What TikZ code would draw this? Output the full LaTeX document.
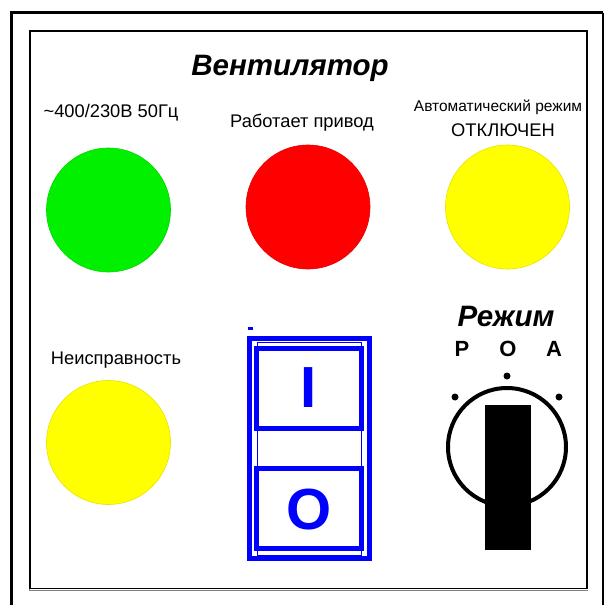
\documentclass[tikz,border=0pt]{standalone}
\usepackage{fontspec}
\setmainfont{Liberation Sans}
\definecolor{lampgreen}{RGB}{0,240,0}
\definecolor{lampred}{RGB}{255,0,0}
\definecolor{lampyellow}{RGB}{255,255,0}
\definecolor{swblue}{RGB}{0,0,255}
\tikzset{
  lamp/.style={circle, minimum size=124pt, inner sep=0pt, draw=#1!90!black, line width=0.6pt, fill=#1},
  lbl/.style={inner sep=0pt, font=\fontsize{18.3}{20}\selectfont},
  title/.style={inner sep=0pt, font=\fontsize{29.5}{31}\selectfont\bfseries\itshape},
  poslbl/.style={inner sep=0pt, font=\fontsize{22}{24}\selectfont\bfseries},
  swbox/.style={draw=swblue, line width=5pt},
}
\begin{document}
\begin{tikzpicture}[x=1pt,y=-1pt]
\useasboundingbox (0,0) rectangle (606,605);
% outer frame
\draw[line width=3pt] (11.5,610) -- (11.5,12.5) -- (603,12.5);
\draw[line width=2pt] (603,12.5) -- (603,610);
% inner frame
\draw[gray, line width=1pt] (29,32) -- (29,590) -- (588,590);
\draw[line width=1.8pt] (30,31) rectangle (587,588.5);
% title
\node[title] (t) at (290,68) {Вентилятор};
% labels
\node[lbl] (l1) at (111,113) {\textasciitilde400/230В 50Гц};
\node[lbl] (l2) at (302,123) {Работает привод};
\node[lbl, font=\fontsize{15.5}{17}\selectfont] (l3a) at (498,107) {Автоматический режим};
\node[lbl] (l3b) at (503,130) {ОТКЛЮЧЕН};
\node[lbl] (l4) at (116,360) {Неисправность};
% lamps
\node[lamp=lampgreen] (g) at (108.5,210) {};
\node[lamp=lampred] (r) at (308,207) {};
\node[lamp=lampyellow] (y1) at (507.5,207) {};
\node[lamp=lampyellow] (y2) at (108.5,442.5) {};
% switch
\fill[swblue] (248,327) rectangle (253,329.5);
\draw[swbox] (249.5,338.5) rectangle (369.5,558.5);
\draw[swblue, line width=1pt] (257,342) rectangle (361,555);
\draw[swbox] (256.5,348.5) rectangle (361.5,428.5);
\draw[swbox] (256.5,468.5) rectangle (361.5,548.5);
\node[inner sep=0pt, text=swblue, font=\fontsize{58}{60}\selectfont\bfseries] (on) at (309,388) {I};
\node[inner sep=0pt, text=swblue, font=\fontsize{58}{60}\selectfont\bfseries] (off) at (309,510) {O};
% selector
\node[title] (rz) at (506,316) {Режим};
\node[poslbl] (pP) at (462,349) {Р};
\node[poslbl] (pO) at (508,349) {О};
\node[poslbl] (pA) at (554,349) {А};
\fill (507,376) circle (3.5);
\fill (455,397) circle (3.5);
\fill (559,397) circle (3.5);
\draw[line width=4pt] (507,447) circle (59);
\fill (485,405) rectangle (531,550);
\end{tikzpicture}
\end{document}
